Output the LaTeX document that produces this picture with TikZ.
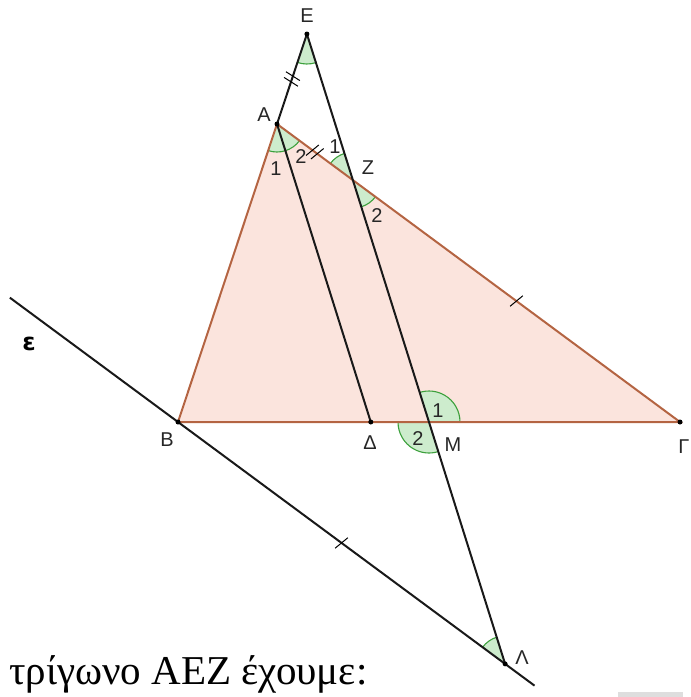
\documentclass[tikz,border=0pt]{standalone}
\usepackage{fontspec}
\setmainfont{Liberation Serif}
\newfontfamily\lblfont{Liberation Sans}
\newfontfamily\epsfont{DejaVu Sans}
\usetikzlibrary{calc,angles,decorations.markings}
\definecolor{triFill}{RGB}{251,228,221}
\definecolor{triEdge}{RGB}{180,100,66}
\definecolor{angFill}{RGB}{205,236,205}
\definecolor{angEdge}{RGB}{60,160,60}
\definecolor{boxGray}{RGB}{222,222,222}
\tikzset{
  seg/.style={black!90, line width=2pt},
  side/.style={triEdge, line width=2pt},
  angmark/.style={draw=angEdge, fill=angFill, line width=1.1pt, angle radius=#1},
  lbl/.style={font=\lblfont\fontsize{20}{20}\selectfont, text=black!85, inner sep=0pt},
  dot/.style={circle, fill=black, inner sep=0pt, minimum size=5pt},
  onetick/.style={postaction={decorate, decoration={markings,
      mark=at position 0.5 with {\draw[black, line width=1pt] (-2pt,-8pt) -- (2pt,8pt);}}}},
  twotick/.style={postaction={decorate, decoration={markings,
      mark=at position 0.5 with {\draw[black, line width=1pt] (-5pt,-8pt) -- (-1pt,8pt) (1pt,-8pt) -- (5pt,8pt);}}}}
}
\begin{document}
\begin{tikzpicture}[x=1pt,y=-1pt]
\useasboundingbox (0,0) rectangle (691,697);
% points
\coordinate (B) at (178,422);
\coordinate (G) at (680,422);
\coordinate (M) at (429,422);
\coordinate (A) at (277,124);
\coordinate (E) at ($(B)!1.302!(A)$);
\coordinate (Z) at (intersection of E--M and A--G);
\coordinate (L) at ($(Z)!2!(M)$);
\coordinate (A2) at ($(A)+(M)-(E)$);
\coordinate (D) at (intersection of B--G and A--A2);
\coordinate (epsS) at ($(B)!-0.514!(L)$);
\coordinate (epsE) at ($(B)!1.09!(L)$);
% triangle fill
\fill[triFill] (A) -- (B) -- (G) -- cycle;
% angle marks
\pic[angmark=30pt] {angle=A--E--Z};
\pic[angmark=28pt] {angle=B--A--D};
\pic[angmark=28pt] {angle=D--A--G};
\pic[angmark=28pt] {angle=E--Z--A};
\pic[angmark=28pt] {angle=M--Z--G};
\pic[angmark=31pt] {angle=G--M--E};
\pic[angmark=31pt] {angle=B--M--L};
\pic[angmark=28pt] {angle=E--L--B};
% triangle sides
\draw[side] (A) -- (B) -- (G) -- cycle;
% lines
\draw[seg] (epsS) -- (epsE);
\draw[seg] (E) -- (L);
\draw[seg] (E) -- (A);
\draw[seg] (A) -- (D);
% tick marks
\path[twotick] (E) -- (A);
\path[twotick] (A) -- (Z);
\path[onetick] (Z) -- (G);
\path[onetick] (B) -- (L);
% dots
\foreach \p in {E,A,B,G,D,L} \node[dot] (dot\p) at (\p) {};
% labels
\node[lbl] (lE) at (307,16) {Ε};
\node[lbl] (lA) at (264,115) {Α};
\node[lbl] (lZ) at (368,168) {Ζ};
\node[lbl] (lB) at (167,440) {Β};
\node[lbl] (lD) at (370,443) {Δ};
\node[lbl] (lM) at (453,445) {Μ};
\node[lbl] (lG) at (684,447) {Γ};
\node[lbl] (lL) at (522,658) {Λ};
\node[lbl] (nA1) at (276,169) {1};
\node[lbl] (nA2) at (301,157) {2};
\node[lbl] (nZ1) at (335,147) {1};
\node[lbl] (nZ2) at (377,216) {2};
\node[lbl] (nM1) at (438,411) {1};
\node[lbl] (nM2) at (418,439) {2};
\node[font=\epsfont\bfseries\fontsize{24}{24}\selectfont, inner sep=0pt] (leps) at (29,344) {ε};
% caption
\node[anchor=base west, inner sep=0pt, font=\fontsize{41}{41}\selectfont] (caption) at (9,684) {τρίγωνο ΑΕΖ έχουμε:};
\fill[boxGray] (618,692) rectangle (683,697);
\end{tikzpicture}
\end{document}
